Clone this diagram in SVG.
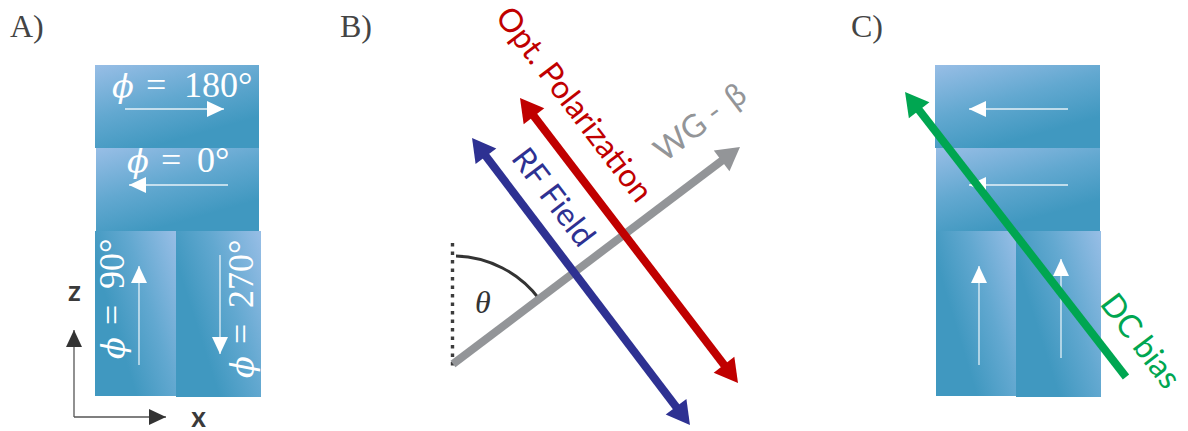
<svg xmlns="http://www.w3.org/2000/svg" width="1188" height="431" viewBox="0 0 1188 431">
<style>
.lbl{font-family:"Liberation Serif","DejaVu Serif",serif;font-size:32px;fill:#444}
.phi{font-family:"Liberation Serif","DejaVu Serif",serif;font-size:36px;fill:#fff}
.it{font-family:"DejaVu Serif",serif;font-style:italic;font-size:32px}
.ax{font-family:Lato,"Open Sans",sans-serif;font-weight:700;fill:#3a3a3a}
.tag{font-family:Lato,"Open Sans",sans-serif;font-size:32px}
.wl{stroke:#fff;stroke-opacity:0.85;stroke-width:1.3;fill:none}
.axl{stroke:#555;stroke-width:1.3;fill:none}
.thick{stroke-width:8;fill:none}
</style>
<defs>
<linearGradient id="gH" x1="0" y1="0" x2="0.5" y2="0.9">
<stop offset="0" stop-color="#98bee6"/><stop offset="0.55" stop-color="#62a8d0"/><stop offset="1" stop-color="#4098c0"/>
</linearGradient>
<linearGradient id="gV" x1="1" y1="0" x2="0.2" y2="0.5">
<stop offset="0" stop-color="#98bee6"/><stop offset="0.55" stop-color="#62a8d0"/><stop offset="1" stop-color="#4098c0"/>
</linearGradient>
<marker id="mw" markerUnits="userSpaceOnUse" viewBox="-18 -9 20 18" markerWidth="20" markerHeight="18" refX="0" refY="0" orient="auto"><path d="M0,0 L-17,-8 L-17,8 Z" fill="#fff"/></marker>
<marker id="mk" markerUnits="userSpaceOnUse" viewBox="-18 -9 20 18" markerWidth="20" markerHeight="18" refX="0" refY="0" orient="auto"><path d="M0,0 L-17,-8 L-17,8 Z" fill="#333"/></marker>
<marker id="mr" markerUnits="userSpaceOnUse" viewBox="-12 -14 26 28" markerWidth="26" markerHeight="28" refX="0" refY="0" orient="auto-start-reverse"><path d="M12,0 L-11,-13 L-11,13 Z" fill="#c00000"/></marker>
<marker id="mb" markerUnits="userSpaceOnUse" viewBox="-12 -14 26 28" markerWidth="26" markerHeight="28" refX="0" refY="0" orient="auto-start-reverse"><path d="M12,0 L-11,-13 L-11,13 Z" fill="#2e3192"/></marker>
<marker id="mg" markerUnits="userSpaceOnUse" viewBox="-12 -14 26 28" markerWidth="26" markerHeight="28" refX="0" refY="0" orient="auto"><path d="M12,0 L-11,-13 L-11,13 Z" fill="#939598"/></marker>
<marker id="mgr" markerUnits="userSpaceOnUse" viewBox="-12 -14 26 28" markerWidth="26" markerHeight="28" refX="0" refY="0" orient="auto"><path d="M12,0 L-11,-13 L-11,13 Z" fill="#00a651"/></marker>
</defs>

<g id="labels">
<text class="lbl" x="10" y="37">A)</text>
<text class="lbl" x="340" y="37">B)</text>
<text class="lbl" x="851" y="37">C)</text>
</g>

<!-- Panel A -->
<g id="A-dom180">
<rect x="95" y="65" width="164" height="83" fill="url(#gH)"/>
<path class="wl" d="M125,109 H224" marker-end="url(#mw)"/>
<text class="phi"><tspan class="it" x="112" y="97">ϕ</tspan><tspan x="146" y="97">=</tspan><tspan x="184" y="97">180°</tspan></text>
</g>
<g id="A-dom0">
<rect x="96" y="148" width="163" height="83" fill="url(#gH)"/>
<path class="wl" d="M228,185 H129" marker-end="url(#mw)"/>
<text class="phi"><tspan class="it" x="127" y="172">ϕ</tspan><tspan x="161" y="172">=</tspan><tspan x="197" y="172">0°</tspan></text>
</g>
<g id="A-dom90">
<rect x="95" y="231" width="81" height="165" fill="url(#gV)"/>
<path class="wl" d="M139,365 V266" marker-end="url(#mw)"/>
<text class="phi" transform="translate(124,359) rotate(-90)"><tspan class="it" x="0" y="0">ϕ</tspan><tspan x="34" y="0">=</tspan><tspan x="70" y="0">90°</tspan></text>
</g>
<g id="A-dom270">
<rect x="176" y="231" width="85" height="166" fill="url(#gV)"/>
<path class="wl" d="M220,255 V354" marker-end="url(#mw)"/>
<text class="phi" transform="translate(253,378) rotate(-90)"><tspan class="it" x="0" y="0">ϕ</tspan><tspan x="34" y="0">=</tspan><tspan x="70" y="0">270°</tspan></text>
</g>
<g id="A-axes">
<path class="axl" d="M74,417 V330" marker-end="url(#mk)"/>
<path class="axl" d="M74,417 H166" marker-end="url(#mk)"/>
<text class="ax" x="74.5" y="301" font-size="28" text-anchor="middle">z</text>
<text class="ax" x="198.5" y="427" font-size="28" text-anchor="middle">x</text>
</g>

<!-- Panel B -->
<g id="B-ref">
<path d="M452.5,243 V367" stroke="#3c3c3c" stroke-width="3.4" stroke-dasharray="3.5 5" fill="none"/>
<path d="M456,256 A108,108 0 0 1 539.1,298.9" stroke="#333" stroke-width="3" fill="none"/>
<text x="475" y="313" font-family="Liberation Serif,DejaVu Serif,serif" font-style="italic" font-size="32" fill="#333">θ</text>
</g>
<g id="connectors">
<path class="thick" stroke="#939598" d="M453,364 L730.4,154.2" marker-end="url(#mg)"/>
<path class="thick" stroke="#2e3192" d="M479.3,147.5 L682.7,415.5" marker-start="url(#mb)" marker-end="url(#mb)"/>
<path class="thick" stroke="#c00000" d="M527.3,107.5 L730.7,373.5" marker-start="url(#mr)" marker-end="url(#mr)"/>
</g>
<g id="B-wg-label">
<text class="tag" fill="#939598" transform="translate(664.6,162.7) rotate(-37.2)"><tspan x="0" y="0">WG</tspan><tspan x="64" y="0">-</tspan><tspan x="88" y="0">β</tspan></text>
</g>
<g id="B-rf-label">
<text class="tag" fill="#2e3192" text-anchor="middle" transform="translate(544.8,203.8) rotate(52.7)">RF Field</text>
</g>
<g id="B-opt-label">
<text class="tag" fill="#c00000" text-anchor="middle" transform="translate(565.7,110.9) rotate(52.7)">Opt. Polarization</text>
</g>

<!-- Panel C -->
<g id="C-dom1">
<rect x="935" y="65" width="165" height="83" fill="url(#gH)"/>
<path class="wl" d="M1068,109 H969" marker-end="url(#mw)"/>
</g>
<g id="C-dom2">
<rect x="936" y="148" width="164" height="83" fill="url(#gH)"/>
<path class="wl" d="M1068,185 H969" marker-end="url(#mw)"/>
</g>
<g id="C-dom3">
<rect x="936" y="231" width="80" height="165" fill="url(#gV)"/>
<path class="wl" d="M979,365 V266" marker-end="url(#mw)"/>
</g>
<g id="C-dom4">
<rect x="1016" y="231" width="85" height="166" fill="url(#gV)"/>
<path class="wl" d="M1061,358 V259" marker-end="url(#mw)"/>
</g>
<g id="C-dc">
<path class="thick" stroke="#00a651" stroke-width="8.5" d="M1126,377 L912.4,101.5" marker-end="url(#mgr)"/>
<text class="tag" fill="#00a651" font-size="30" text-anchor="middle" transform="translate(1132,347.5) rotate(52.7)">DC bias</text>
</g>
</svg>
